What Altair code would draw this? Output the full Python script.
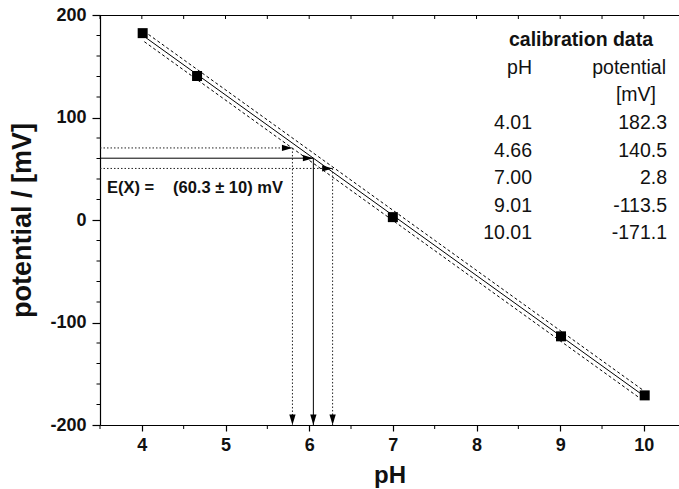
import altair as alt
import pandas as pd

# calibration data
ph = [4.01, 4.66, 7.00, 9.01, 10.01]
potential = [182.3, 140.5, 2.8, -113.5, -171.1]
ph_labels = ["4.01", "4.66", "7.00", "9.01", "10.01"]
pot_labels = ["182.3", "140.5", "2.8", "-113.5", "-171.1"]

# measured unknown E(X) = 60.3 +/- 10 mV, read-off pH values
e_levels = [70.3, 60.3, 50.3]
e_ph = [5.80, 6.05, 6.28]
e_style = ["dot", "solid", "dot"]
band = 5.0  # offset of dashed confidence lines in mV

x_ticks_minor = [3.5, 4.5, 5.5, 6.5, 7.5, 8.5, 9.5]
x_ticks_all = [3.5, 4.0, 4.5, 5.0, 5.5, 6.0, 6.5, 7.0, 7.5, 8.0, 8.5, 9.0, 9.5, 10.0]
y_ticks_minor = [-180, -160, -140, -120, -80, -60, -40, -20, 20, 40, 60, 80, 120, 140, 160, 180]

W, H = 579, 410
FONT = "Liberation Sans"

df = pd.DataFrame({"pH": ph, "E": potential})
xs = alt.Scale(domain=[3.5, 10.42], nice=False, zero=False)
ys = alt.Scale(domain=[-200, 200], nice=False, zero=False)

X = alt.X("pH:Q", scale=xs, axis=alt.Axis(
    title="pH", values=[4, 5, 6, 7, 8, 9, 10], format="d", tickSize=6, labelPadding=5,
    labelFontSize=18, labelFontWeight="bold", titleFontSize=24, titleFontWeight="bold",
    titlePadding=9, grid=False, domainColor="black", tickColor="black",
    labelColor="#111", titleColor="#111", labelFont=FONT, titleFont=FONT))
Y = alt.Y("E:Q", scale=ys, axis=alt.Axis(
    title="potential / [mV]", values=[-200, -100, 0, 100, 200], tickSize=8, labelPadding=6,
    labelExpr="'' + datum.value",
    labelFontSize=18, labelFontWeight="bold", titleFontSize=27, titleFontWeight="bold",
    titleX=-64, grid=False, domainColor="black", tickColor="black",
    labelColor="#111", titleColor="#111", labelFont=FONT, titleFont=FONT))

base = alt.Chart(df)

points = base.mark_point(shape="square", filled=True, size=100, color="black", opacity=1).encode(x=X, y=Y)

fit = base.transform_regression("pH", "E", method="linear", extent=[4.0, 10.05]).mark_line(
    color="black", strokeWidth=1).encode(x=alt.X("pH:Q", scale=xs), y=alt.Y("E:Q", scale=ys))

upper = base.transform_regression("pH", "E", method="linear", extent=[4.08, 10.0]).transform_calculate(
    Eu=f"datum.E + {band}").mark_line(color="black", strokeWidth=1, strokeDash=[3, 2.5]).encode(
    x=alt.X("pH:Q", scale=xs), y=alt.Y("Eu:Q", scale=ys))
lower = base.transform_regression("pH", "E", method="linear", extent=[4.03, 9.95]).transform_calculate(
    El=f"datum.E - {band}").mark_line(color="black", strokeWidth=1, strokeDash=[3, 2.5]).encode(
    x=alt.X("pH:Q", scale=xs), y=alt.Y("El:Q", scale=ys))

arr = pd.DataFrame({"lvl": e_levels, "px": e_ph, "style": e_style, "x0": [3.5] * 3, "ybot": [-200] * 3})
arr_solid = arr[arr["style"] == "solid"]
arr_dot = arr[arr["style"] == "dot"]

def arrow_lines(d, dash):
    kw = dict(color="black", strokeWidth=1)
    if dash:
        kw["strokeDash"] = [1.5, 2]
        kw["color"] = "#222"
    c = alt.Chart(d)
    h = c.mark_rule(**kw).encode(x=alt.X("x0:Q", scale=xs), x2="px:Q", y=alt.Y("lvl:Q", scale=ys))
    v = c.mark_rule(**kw).encode(x=alt.X("px:Q", scale=xs), y=alt.Y("lvl:Q", scale=ys), y2="ybot:Q")
    return h + v

right_head = "M-2,-0.6L-2,0.6L0,0Z"
down_head = "M-0.6,-2L0.6,-2L0,0Z"
heads_h = alt.Chart(arr).mark_point(shape=right_head, filled=True, size=110, color="black", opacity=1).encode(
    x=alt.X("px:Q", scale=xs), y=alt.Y("lvl:Q", scale=ys))
heads_v = alt.Chart(arr).mark_point(shape=down_head, filled=True, size=110, color="black", opacity=1).encode(
    x=alt.X("px:Q", scale=xs), y=alt.Y("ybot:Q", scale=ys))

# axis decorations: minor ticks, top frame line with inward ticks
ymin_df = pd.DataFrame({"v": y_ticks_minor})
y_minor = alt.Chart(ymin_df).mark_rule(color="black", strokeWidth=1).encode(
    y=alt.Y("v:Q", scale=ys), x=alt.value(-3.5), x2=alt.value(0))
xmin_df = pd.DataFrame({"v": x_ticks_minor})
x_minor = alt.Chart(xmin_df).mark_rule(color="black", strokeWidth=1).encode(
    x=alt.X("v:Q", scale=xs), y=alt.value(H), y2=alt.value(H + 4))
xall_df = pd.DataFrame({"v": x_ticks_all})
top_ticks = alt.Chart(xall_df).mark_rule(color="black", strokeWidth=1).encode(
    x=alt.X("v:Q", scale=xs), y=alt.value(0), y2=alt.value(4))
top_line = alt.Chart(xall_df).mark_rule(color="black", strokeWidth=1.2).encode(
    x=alt.value(0), x2=alt.value(W), y=alt.value(0.5))

# annotation
ann = alt.Chart(pd.DataFrame({"t": ["E(X) =", "(60.3 ± 10) mV"], "xp": [7, 73]})).mark_text(
    align="left", baseline="middle", font=FONT, fontSize=16.5, fontWeight="bold", color="#111").encode(
    text="t:N", x=alt.X("xp:Q", scale=None), y=alt.value(173))

# calibration table
title_t = alt.Chart(pd.DataFrame({"t": ["calibration data"]})).mark_text(
    align="center", baseline="middle", font=FONT, fontSize=19.5, fontWeight="bold", color="#111").encode(
    text="t:N", x=alt.value(481), y=alt.value(25))
hdr = alt.Chart(pd.DataFrame({"t": ["pH", "potential", "[mV]"], "xp": [432, 566, 556],
                              "yp": [53, 53, 80]})).mark_text(
    align="right", baseline="middle", font=FONT, fontSize=19.5, color="#111").encode(
    text="t:N", x=alt.X("xp:Q", scale=None), y=alt.Y("yp:Q", scale=None))
tab = pd.DataFrame({"a": ph_labels, "b": pot_labels, "row": list(range(len(ph_labels)))})
tab_a = alt.Chart(tab).transform_calculate(yp="108 + 27.5*datum.row").mark_text(
    align="right", baseline="middle", font=FONT, fontSize=19.5, color="#111").encode(
    text="a:N", x=alt.value(432), y=alt.Y("yp:Q", scale=None))
tab_b = alt.Chart(tab).transform_calculate(yp="108 + 27.5*datum.row").mark_text(
    align="right", baseline="middle", font=FONT, fontSize=19.5, color="#111").encode(
    text="b:N", x=alt.value(567), y=alt.Y("yp:Q", scale=None))

chart = alt.layer(
    points, fit, upper, lower,
    arrow_lines(arr_dot, True), arrow_lines(arr_solid, False), heads_h, heads_v,
    y_minor, x_minor, top_ticks, top_line,
    ann, title_t, hdr, tab_a, tab_b,
).properties(
    width=W, height=H,
    autosize=alt.AutoSizeParams(type="none"),
    padding={"left": 100, "top": 15, "right": 0, "bottom": 64},
).configure_view(stroke=None).configure(font=FONT).configure_axis(domainWidth=1.2, tickWidth=1.2)

chart.save("out.html", embed_options={"renderer": "svg", "actions": False})
